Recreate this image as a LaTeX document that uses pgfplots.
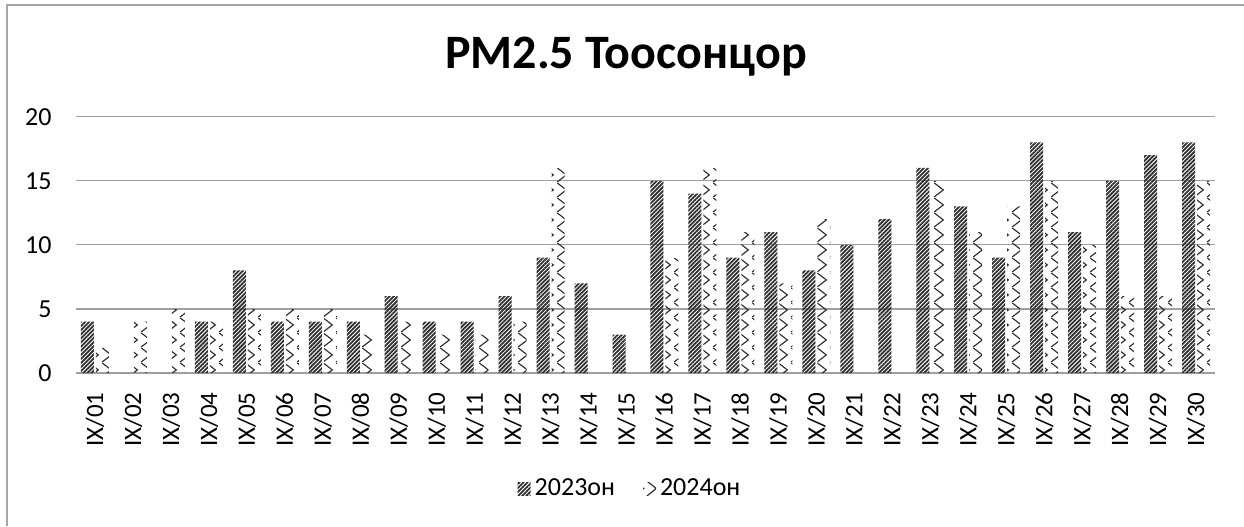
\documentclass[border=0pt]{standalone}
\usepackage{fontspec}
\setmainfont{Carlito}
\usepackage{pgfplots}
\pgfplotsset{compat=1.18}
\usepackage{pgfplotstable}
\usetikzlibrary{patterns,patterns.meta}
\definecolor{gridgray}{HTML}{A0A0A0}
\definecolor{bordergray}{HTML}{A6A6A6}
\definecolor{darkbar}{HTML}{2E2E2E}
% tile width = one third of the category spacing
\pgfdeclarepatternformonly{wave}{\pgfpointorigin}{\pgfqpoint{6.33pt}{7.5pt}}{\pgfqpoint{6.33pt}{7.5pt}}{%
  \pgfsetlinewidth{0.6pt}%
  \pgfpathmoveto{\pgfqpoint{0.6pt}{0pt}}%
  \pgfpathlineto{\pgfqpoint{5.3pt}{3.75pt}}%
  \pgfpathlineto{\pgfqpoint{0.6pt}{7.5pt}}%
  \pgfusepath{stroke}}
\pgfplotstableread{
x a b
1 4 2
2 0 4
3 0 5
4 4 4
5 8 5
6 4 5
7 4 5
8 4 3
9 6 4
10 4 3
11 4 3
12 6 4
13 9 16
14 7 0
15 3 0
16 15 9
17 14 16
18 9 11
19 11 7
20 8 12
21 10 0
22 12 0
23 16 15
24 13 11
25 9 13
26 18 15
27 11 10
28 15 6
29 17 6
30 18 15
}\datatable
\begin{document}
\begin{tikzpicture}
\useasboundingbox (0,0) rectangle (622pt,263pt);
\draw[bordergray, line width=1pt] (3.25pt,0) -- (3.25pt,260.25pt) -- (622pt,260.25pt);
\node[font=\bfseries\fontsize{24}{28}\selectfont, anchor=base] at (313pt,228.5pt) {PM2.5 Тоосонцор};
\begin{axis}[
  at={(38pt,76.5pt)}, anchor=south west,
  scale only axis, width=569.5pt, height=128.15pt,
  xmin=0.5, xmax=30.5, ymin=0, ymax=20,
  ytick={0,5,10,15,20},
  xtick={1,...,30},
  xticklabels={IX/01,IX/02,IX/03,IX/04,IX/05,IX/06,IX/07,IX/08,IX/09,IX/10,IX/11,IX/12,IX/13,IX/14,IX/15,IX/16,IX/17,IX/18,IX/19,IX/20,IX/21,IX/22,IX/23,IX/24,IX/25,IX/26,IX/27,IX/28,IX/29,IX/30},
  major tick length=0pt,
  axis line style={draw=none},
  ymajorgrids, grid style={gridgray, line width=0.6pt},
  tick label style={font=\fontsize{13}{15}\selectfont, inner sep=0pt},
  xticklabel style={font=\fontsize{12.5}{15}\selectfont},
  /pgf/number format/assume math mode=true,
  yticklabel style={anchor=east},
  yticklabel shift=12pt,
  xticklabel style={rotate=90, anchor=east},
  xticklabel shift=9.5pt,
  ybar=1pt, bar width=6.5pt,
  legend style={at={(0.4873,-0.4526)}, anchor=center, draw=none, fill=none,
    font=\fontsize{13}{15}\selectfont, legend columns=2,
    /tikz/every even column/.append style={column sep=12pt},
    inner sep=0pt},
  legend image code/.code={\fill[#1] (0pt,-3.3pt) rectangle (6.5pt,3.3pt);},
]
\addplot[draw=none, pattern={Lines[angle=45,distance=1.45pt,line width=0.9pt]}, pattern color=darkbar] table[x=x,y=a]{\datatable};
\addplot[draw=none, pattern=wave, pattern color=darkbar] table[x=x,y=b]{\datatable};
\legend{2023он,2024он}
\end{axis}
\end{tikzpicture}
\end{document}
